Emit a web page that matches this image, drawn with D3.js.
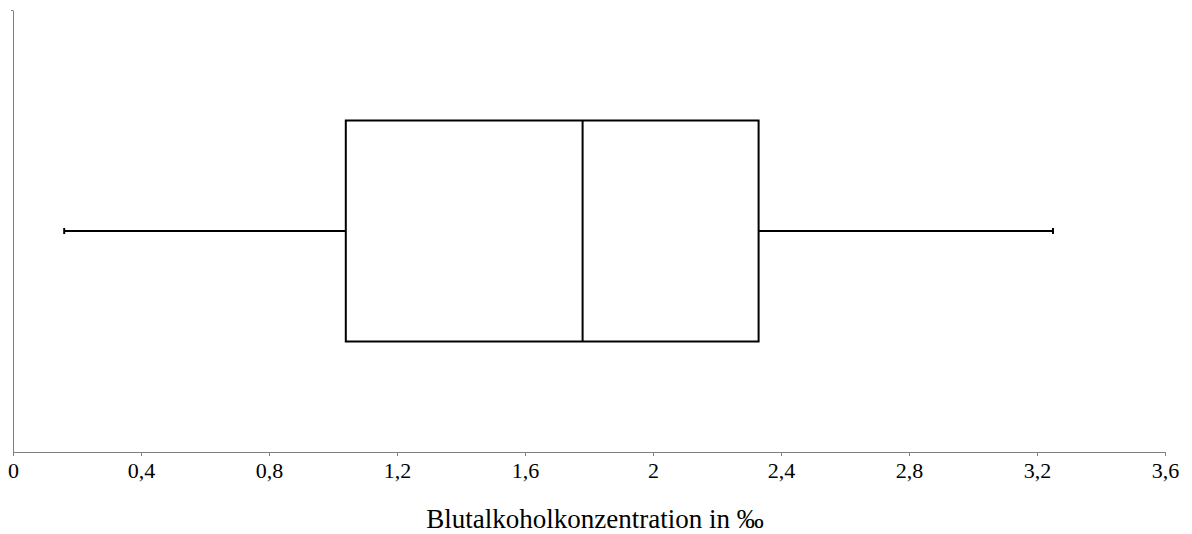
<!DOCTYPE html>
<html>
<head>
<meta charset="utf-8">
<script src="https://cdn.jsdelivr.net/npm/d3@7"></script>
<style>
  body { margin: 0; background: #fff; }
  svg text { font-family: "Liberation Serif", "Times New Roman", Times, serif; }
</style>
</head>
<body>
<div id="chart"></div>
<script>
// Box plot summary (Promille)
const stats = { min: 0.16, q1: 1.04, median: 1.78, q3: 2.33, max: 3.25 };
const xTicks = [0, 0.4, 0.8, 1.2, 1.6, 2, 2.4, 2.8, 3.2, 3.6];
const xTitle = "Blutalkoholkonzentration in ‰";

const width = 1192;
const height = 534;
const serif = "'Liberation Serif', 'Times New Roman', Times, serif";

const svg = d3.select("#chart")
  .append("svg")
  .attr("width", width)
  .attr("height", height);

const x = d3.scaleLinear().domain([0, 3.6]).range([13, 1165]);
const y = d3.scaleLinear().domain([0, 1]).range([452, 10]);

const fmt = d => String(d).replace(".", ",");

// x axis
const xAxis = svg.append("g")
  .attr("transform", `translate(0,${y(0)})`)
  .call(d3.axisBottom(x).tickValues(xTicks).tickSize(4).tickSizeOuter(0).tickFormat(fmt));
xAxis.attr("font-family", null).attr("font-size", null);
xAxis.select(".domain").attr("stroke", "#808080");
xAxis.selectAll(".tick line").attr("stroke", "#808080");
xAxis.selectAll(".tick text")
  .attr("fill", "#000")
  .style("font-family", serif)
  .style("font-size", "22px")
  .attr("dy", "0.71em")
  .attr("y", 10);

// y axis (no labels)
const yAxis = svg.append("g")
  .attr("transform", `translate(${x(0)},0)`)
  .call(d3.axisLeft(y).tickValues([1]).tickSize(2).tickSizeOuter(0).tickFormat(""));
yAxis.select(".domain").attr("stroke", "#808080");
yAxis.selectAll(".tick line").attr("stroke", "#808080");

// box geometry in y units
const boxTop = y(0.75), boxBottom = y(0.25), mid = y(0.5);

const g = svg.append("g")
  .attr("stroke", "#000")
  .attr("stroke-width", 2)
  .attr("fill", "none");

// whiskers
g.append("line")
  .attr("x1", x(stats.min)).attr("x2", x(stats.q1))
  .attr("y1", mid).attr("y2", mid);
g.append("line")
  .attr("x1", x(stats.q3)).attr("x2", x(stats.max))
  .attr("y1", mid).attr("y2", mid);
// whisker caps
[stats.min, stats.max].forEach(v => {
  g.append("line")
    .attr("x1", x(v)).attr("x2", x(v))
    .attr("y1", mid - 3).attr("y2", mid + 3);
});

// box
g.append("rect")
  .attr("x", x(stats.q1))
  .attr("y", boxTop)
  .attr("width", x(stats.q3) - x(stats.q1))
  .attr("height", boxBottom - boxTop)
  .attr("fill", "#fff");

// median
g.append("line")
  .attr("x1", x(stats.median)).attr("x2", x(stats.median))
  .attr("y1", boxTop).attr("y2", boxBottom);

// axis title
svg.append("text")
  .attr("x", 595)
  .attr("y", 528)
  .attr("text-anchor", "middle")
  .style("font-family", serif)
  .style("font-size", "27px")
  .attr("fill", "#000")
  .text(xTitle);
</script>
</body>
</html>
